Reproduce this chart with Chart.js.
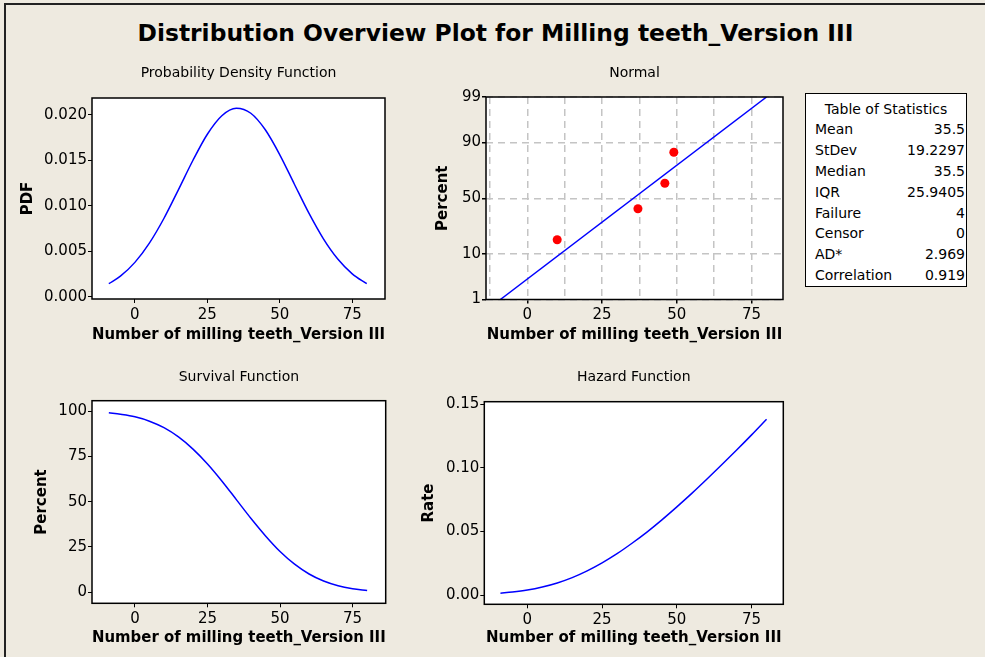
<!DOCTYPE html>
<html>
<head>
<meta charset="utf-8">
<script src="https://cdn.jsdelivr.net/npm/chart.js@4.4.1/dist/chart.umd.min.js"></script>
<style>
  html, body { margin: 0; padding: 0; }
  body {
    width: 985px; height: 657px; position: relative; overflow: hidden;
    background: #EEEAE0; font-family: "DejaVu Sans", sans-serif; color: #000;
  }
  .edgeTop { position: absolute; left: 4px; top: 3px; width: 981px; height: 2px; background: #222; }
  .edgeLeft { position: absolute; left: 4px; top: 3px; width: 2px; height: 654px; background: #222; }
  #title {
    position: absolute; left: 6px; top: 20px; width: 979px; text-align: center;
    font-weight: bold; font-size: 23.4px; line-height: 27px; white-space: nowrap;
  }
  canvas { position: absolute; }
  #stats {
    position: absolute; left: 805px; top: 93px; width: 160px; height: 187px;
    background: #fff; border: 1px solid #000; font-size: 14px; line-height: 20.8px;
    padding-top: 4.6px; box-sizing: content-box;
  }
  #stats .head { text-align: center; }
  #stats .row { display: flex; justify-content: space-between; padding: 0 1px 0 9px; }
</style>
</head>
<body>
<div class="edgeTop"></div>
<div class="edgeLeft"></div>
<div id="title">Distribution Overview Plot for Milling teeth_Version III</div>
<canvas id="pdfChart" width="400" height="292"></canvas>
<canvas id="normChart" width="400" height="292"></canvas>
<canvas id="survChart" width="400" height="302"></canvas>
<canvas id="hazChart" width="400" height="302"></canvas>
<div id="stats"></div>

<script>
// values
const xs = [-9, -5, 0, 5, 10, 15, 20, 25, 30, 35, 40, 45, 50, 55, 60, 65, 70, 75, 80];
const pdfVals = [0.00143, 0.00226, 0.00378, 0.0059, 0.00861, 0.01176, 0.01499, 0.01788, 0.01992, 0.02074,
  0.02019, 0.01837, 0.01562, 0.01241, 0.00922, 0.0064, 0.00415, 0.00252, 0.00143];
const survVals = [99.0, 98.2, 96.8, 94.4, 90.8, 85.7, 79.0, 70.8, 61.3, 51.0, 40.7, 31.1, 22.5, 15.5, 10.1, 6.2, 3.6, 2.0, 1.0];
const hazVals = [0.0014, 0.0023, 0.0039, 0.0063, 0.0095, 0.0137, 0.019, 0.0253, 0.0325, 0.0407,
  0.0495, 0.0591, 0.0693, 0.0799, 0.091, 0.1024, 0.114, 0.1259, 0.1382];

const failX = [10, 37, 46, 49];
const failPct = [17, 40.5, 63.5, 85.5];
const fitX = [-9, 80];
const fitPct = [1.0, 99.0];

const xTicks = [0, 25, 50, 75];
const xGridTicks = [-12.5, 0, 12.5, 25, 37.5, 50, 62.5, 75];
const pctTicks = [1, 10, 50, 90, 99];
const pdfTicks = [0, 0.005, 0.01, 0.015, 0.02];
const survTicks = [0, 25, 50, 75, 100];
const hazTicks = [0, 0.05, 0.1, 0.15];

const statLabels = ["Mean", "StDev", "Median", "IQR", "Failure", "Censor", "AD*", "Correlation"];
const statValues = ["35.5", "19.2297", "35.5", "25.9405", "4", "0", "2.969", "0.919"];

const xTitle = "Number of milling teeth_Version III";

// inverse normal cdf (Acklam) for the probability axis
function probit(p) {
  const a = [-39.69683028665376, 220.9460984245205, -275.9285104469687, 138.357751867269, -30.66479806614716, 2.506628277459239];
  const b = [-54.47609879822406, 161.5858368580409, -155.6989798598866, 66.80131188771972, -13.28068155288572];
  const c = [-0.007784894002430293, -0.3223964580411365, -2.400758277161838, -2.549732539343734, 4.374664141464968, 2.938163982698783];
  const d = [0.007784695709041462, 0.3224671290700398, 2.445134137142996, 3.754408661907416];
  const pl = 0.02425;
  let q, r;
  if (p < pl) {
    q = Math.sqrt(-2 * Math.log(p));
    return (((((c[0] * q + c[1]) * q + c[2]) * q + c[3]) * q + c[4]) * q + c[5]) / ((((d[0] * q + d[1]) * q + d[2]) * q + d[3]) * q + 1);
  }
  if (p > 1 - pl) {
    q = Math.sqrt(-2 * Math.log(1 - p));
    return -(((((c[0] * q + c[1]) * q + c[2]) * q + c[3]) * q + c[4]) * q + c[5]) / ((((d[0] * q + d[1]) * q + d[2]) * q + d[3]) * q + 1);
  }
  q = p - 0.5;
  r = q * q;
  return (((((a[0] * r + a[1]) * r + a[2]) * r + a[3]) * r + a[4]) * r + a[5]) * q / (((((b[0] * r + b[1]) * r + b[2]) * r + b[3]) * r + b[4]) * r + 1);
}

// stats table
const stats = document.getElementById("stats");
stats.innerHTML = '<div class="head">Table of Statistics</div>' +
  statLabels.map((l, i) => '<div class="row"><span>' + l + '</span><span>' + statValues[i] + '</span></div>').join("");

Chart.defaults.font.family = "DejaVu Sans";
Chart.defaults.color = "#000";

const framePlugin = {
  id: "frame",
  beforeDraw(chart) {
    const { ctx, chartArea: a } = chart;
    ctx.save();
    ctx.fillStyle = "#fff";
    ctx.fillRect(a.left, a.top, a.width, a.height);
    ctx.restore();
  },
  afterDraw(chart) {
    const { ctx, chartArea: a } = chart;
    ctx.save();
    ctx.strokeStyle = "#000";
    ctx.lineWidth = 1.5;
    ctx.strokeRect(a.left, a.top, a.width, a.height);
    ctx.restore();
  },
};

const blue = "#0000FF";
const tickFont = { size: 15 };
const axisFont = { size: 15, weight: "bold", lineHeight: 1.2 };

function setTicks(list) {
  return (s) => { s.ticks = list.map((v) => ({ value: v })); };
}

// box = canvas on the page, area = plot rectangle on the page
function makePanel(id, box, area, t, cfg) {
  const canvas = document.getElementById(id);
  canvas.style.left = box.x + "px";
  canvas.style.top = box.y + "px";
  const titleTop = t.titleY - box.y - 8.4;
  const titleBottom = area.t - box.y - 16.8 - titleTop;
  return new Chart(canvas, {
    type: "line",
    data: { datasets: cfg.datasets },
    options: {
      responsive: false,
      animation: false,
      layout: { padding: { left: 0, top: 0, bottom: 0, right: box.x + box.w - area.r } },
      plugins: {
        legend: { display: false },
        tooltip: { enabled: false },
        title: {
          display: true,
          fullSize: false,
          text: cfg.title,
          font: { size: 14, weight: "normal", lineHeight: 1.2 },
          padding: { top: titleTop, bottom: titleBottom },
        },
      },
      scales: {
        x: Object.assign({
          type: "linear",
          min: cfg.xMin,
          max: cfg.xMax,
          afterFit: (s) => { s.height = box.y + box.h - area.b; },
          afterBuildTicks: setTicks(xTicks),
          title: { display: true, text: xTitle, font: axisFont, padding: { top: 0, bottom: box.y + box.h - t.xTitleY - 9 } },
          ticks: { autoSkip: false, maxRotation: 0, padding: 3, font: tickFont },
          grid: { drawOnChartArea: false, drawTicks: true, tickLength: 4, tickColor: "#000" },
          border: { display: false },
        }, cfg.x || {}),
        y: Object.assign({
          min: cfg.yMin,
          max: cfg.yMax,
          afterFit: (s) => { s.width = area.l - box.x; },
          afterBuildTicks: setTicks(cfg.yTicks),
          title: { display: true, text: cfg.yTitle, font: axisFont, padding: { top: t.yTitleX - box.x - 9, bottom: 0 } },
          ticks: { autoSkip: false, padding: 1, font: tickFont, callback: cfg.yLabel },
          grid: { drawOnChartArea: false, drawTicks: true, tickLength: 4, tickColor: "#000" },
          border: { display: false },
        }, cfg.y || {}),
      },
    },
    plugins: [framePlugin],
  });
}

function curve(xv, yv) {
  return {
    data: xv.map((x, i) => ({ x: x, y: yv[i] })),
    borderColor: blue,
    borderWidth: 1.5,
    pointRadius: 0,
    cubicInterpolationMode: "monotone",
  };
}

// Probability Density Function
makePanel("pdfChart",
  { x: 0, y: 58, w: 400, h: 292 },
  { l: 92, t: 98, r: 385, b: 299 },
  { titleY: 73.3, xTitleY: 335, yTitleX: 28.3 },
  {
    title: "Probability Density Function",
    yTitle: "PDF",
    datasets: [curve(xs, pdfVals)],
    xMin: -14.8, xMax: 86.3, yMin: -0.00025, yMax: 0.02187,
    yTicks: pdfTicks,
    yLabel: (v) => v.toFixed(3),
  });

// Normal probability plot
const gridDash = { display: false, dash: [7, 5] };
makePanel("normChart",
  { x: 400, y: 58, w: 400, h: 292 },
  { l: 486, t: 97, r: 783, b: 299.5 },
  { titleY: 73.3, xTitleY: 335.3, yTitleX: 442.7 },
  {
    title: "Normal",
    yTitle: "Percent",
    datasets: [
      Object.assign(curve(fitX, fitPct.map((p) => probit(p / 100))), { cubicInterpolationMode: "default", tension: 0 }),
      {
        data: failX.map((x, i) => ({ x: x, y: probit(failPct[i] / 100) })),
        showLine: false,
        pointRadius: 4.5,
        pointBorderWidth: 0,
        pointBackgroundColor: "#FF0000",
        borderColor: "#FF0000",
      },
    ],
    xMin: -13.8, xMax: 85.5,
    yMin: probit(pctTicks[0] / 100), yMax: probit(pctTicks[pctTicks.length - 1] / 100),
    yTicks: pctTicks.map((p) => probit(p / 100)),
    yLabel: (v, i) => pctTicks[i],
    x: {
      afterBuildTicks: setTicks(xGridTicks),
      ticks: {
        autoSkip: false, maxRotation: 0, padding: 3, font: tickFont,
        callback: (v) => (xTicks.includes(v) ? v : ""),
      },
      grid: {
        drawOnChartArea: true, drawTicks: true, tickLength: 4, color: "#C4C4C4", lineWidth: 1.5,
        tickColor: (c) => (c.tick && xTicks.includes(c.tick.value) ? "#000" : "rgba(0,0,0,0)"),
      },
      border: gridDash,
    },
    y: {
      grid: { drawOnChartArea: true, drawTicks: true, tickLength: 4, color: "#C4C4C4", lineWidth: 1.5, tickColor: "#000" },
      border: gridDash,
    },
  });

// Survival Function
makePanel("survChart",
  { x: 0, y: 355, w: 400, h: 302 },
  { l: 92, t: 400.7, r: 385.7, b: 603.3 },
  { titleY: 377.3, xTitleY: 638, yTitleX: 41.7 },
  {
    title: "Survival Function",
    yTitle: "Percent",
    datasets: [curve(xs, survVals)],
    xMin: -14.8, xMax: 86.4, yMin: -6.07, yMax: 105.7,
    yTicks: survTicks,
  });

// Hazard Function
makePanel("hazChart",
  { x: 400, y: 355, w: 400, h: 302 },
  { l: 484.3, t: 401.7, r: 783.3, b: 604.3 },
  { titleY: 377.3, xTitleY: 638, yTitleX: 429.3 },
  {
    title: "Hazard Function",
    yTitle: "Rate",
    datasets: [curve(xs, hazVals)],
    xMin: -14.4, xMax: 85.6, yMin: -0.0073, yMax: 0.152,
    yTicks: hazTicks,
    yLabel: (v) => v.toFixed(2),
  });
</script>
</body>
</html>
